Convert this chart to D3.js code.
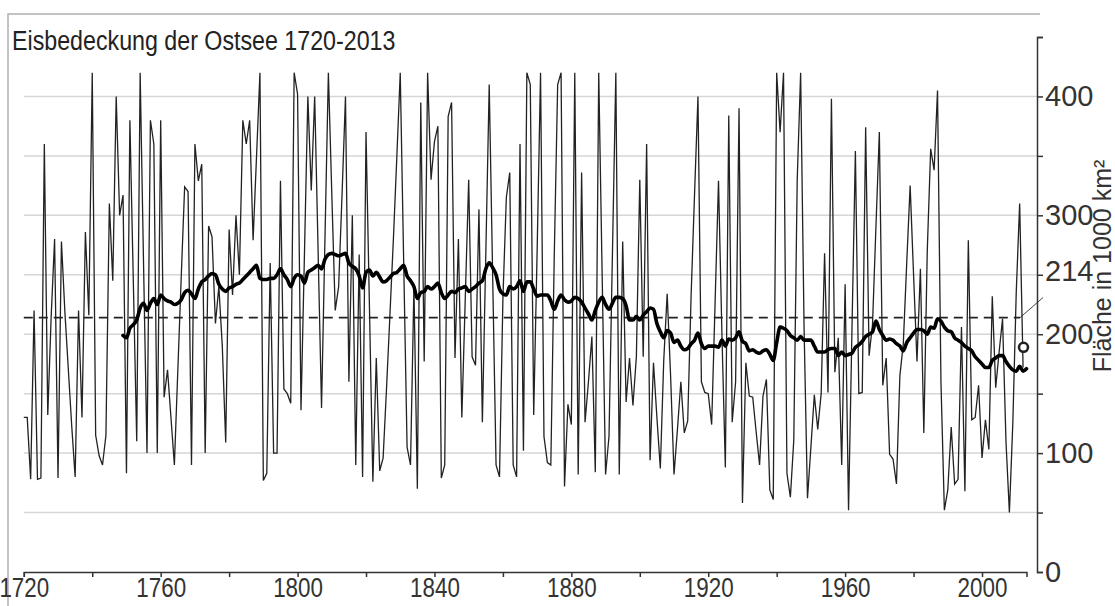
<!DOCTYPE html>
<html>
<head>
<meta charset="utf-8">
<title>Eisbedeckung der Ostsee 1720-2013</title>
<script src="https://cdn.jsdelivr.net/npm/d3@7"></script>
<style>
  body { margin: 0; background: #fff; }
  svg { display: block; font-family: "Liberation Sans", Arial, sans-serif; }
  .axis path, .axis line { stroke: #333; stroke-width: 1.5; }
  .axis text { fill: #333; }
</style>
</head>
<body>
<svg width="1115" height="606"></svg>
<script>
    // chart data (values in 1000 km²)
    var title = "Eisbedeckung der Ostsee 1720-2013";
    var yLabel = "Fläche in 1000 km²";
    var firstYear = 1720;
    var iceArea = [
        130, 130, 78, 220, 78, 79, 360, 132, 215, 280,
        79, 278, 219, 171, 123, 80, 220, 130, 286, 216,
        420, 115, 98, 90, 115, 310, 245, 400, 300, 317,
        83, 380, 245, 110, 420, 258, 100, 380, 360, 100,
        380, 147, 170, 130, 90, 169, 248, 324, 320, 90,
        360, 329, 343, 100, 291, 282, 209, 240, 190, 109,
        288, 233, 300, 250, 380, 360, 380, 279, 349, 420,
        77, 83, 260, 100, 100, 329, 154, 150, 142, 420,
        402, 136, 266, 400, 321, 400, 270, 138, 280, 420,
        318, 220, 240, 318, 400, 160, 300, 90, 267, 80,
        370, 223, 76, 180, 85, 96, 155, 217, 280, 349,
        420, 262, 105, 90, 240, 70, 395, 177, 420, 330,
        362, 375, 79, 90, 383, 395, 180, 280, 130, 230,
        330, 181, 174, 305, 126, 267, 410, 250, 90, 80,
        230, 315, 336, 90, 80, 360, 102, 420, 410, 132,
        270, 420, 114, 92, 90, 265, 410, 420, 72, 141,
        124, 420, 82, 336, 126, 160, 198, 84, 420, 250,
        82, 114, 267, 420, 82, 278, 143, 180, 140, 181,
        330, 181, 360, 94, 176, 130, 87, 178, 234, 165,
        82, 120, 160, 117, 127, 233, 318, 400, 160, 151,
        150, 124, 226, 329, 200, 88, 384, 126, 160, 390,
        58, 176, 148, 147, 118, 90, 148, 162, 69, 61,
        420, 370, 420, 83, 63, 111, 330, 420, 206, 62,
        105, 149, 120, 150, 268, 151, 398, 168, 197, 90,
        242, 52, 204, 354, 150, 151, 374, 182, 208, 290,
        370, 157, 180, 99, 95, 74, 165, 192, 260, 325,
        250, 177, 255, 117, 270, 356, 338, 405, 160, 52,
        69, 122, 74, 78, 206, 68, 279, 128, 130, 157,
        96, 128, 103, 232, 155, 185, 213, 110, 50, 125,
        235, 310, 172
    ];
    // 30-year running mean
    var meanStart = 1749;
    var runningMean = [
        199, 197, 205, 208, 212, 222, 226, 220, 226, 230, 225,
        233, 230, 228, 227, 225, 226, 229, 235, 237, 234,
        230, 238, 244, 246, 249, 251, 250, 242, 238, 236,
        239, 240, 242, 243, 246, 249, 252, 255, 258, 247,
        246, 246, 247, 247, 250, 255, 250, 246, 240, 247,
        250, 249, 243, 252, 254, 256, 258, 255, 263, 267,
        268, 267, 266, 267, 268, 260, 257, 255, 249, 239,
        252, 254, 249, 252, 248, 244, 245, 248, 251, 252,
        255, 258, 249, 245, 240, 230, 235, 236, 240, 238,
        240, 243, 235, 230, 233, 236, 235, 238, 239, 240,
        236, 238, 240, 243, 245, 255, 260, 256, 250, 238,
        234, 233, 240, 238, 240, 245, 236, 244, 244, 238,
        232, 233, 233, 233, 228, 221, 228, 233, 229, 227,
        228, 231, 230, 227, 222, 217, 212, 220, 227, 231,
        225, 221, 226, 231, 231, 230, 224, 212, 212, 215,
        212, 216, 219, 222, 221, 209, 202, 197, 203, 201,
        193, 195, 190, 187, 188, 192, 195, 201, 192, 188,
        190, 190, 190, 189, 195, 190, 196, 195, 197, 202,
        194, 192, 186, 187, 185, 184, 186, 187, 183, 178,
        193, 206, 205, 203, 199, 197, 195, 198, 195, 195,
        195, 190, 185, 185, 185, 187, 188, 188, 182, 185,
        182, 183, 184, 189, 191, 194, 198, 200, 202, 211,
        204, 199, 195, 196, 195, 192, 190, 186, 193, 197,
        201, 204, 204, 203, 200, 206, 205, 213, 211, 206,
        203, 202, 197, 195, 193, 190, 188, 186, 181, 178,
        175, 172, 172, 178, 180, 182, 182, 177, 173, 170,
        169, 173, 169, 171
    ];
    var markYear = 2013, markValue = 189;
    var refMean = 214;
    var xTickYears = [1720, 1740, 1760, 1780, 1800, 1820, 1840, 1860, 1880, 1900, 1920, 1940, 1960, 1980, 2000];
    var yTickValues = [0, 50, 100, 150, 200, 250, 300, 350, 400, 450];

    var svg = d3.select("svg");

    // squeeze text horizontally like the narrow lettering of the original
    function squeeze(sel, f) {
        sel.each(function () {
            var w = this.getComputedTextLength();
            if (w > 0) d3.select(this).attr("textLength", w * f).attr("lengthAdjust", "spacingAndGlyphs");
        });
    }

    svg.append("rect").attr("width", 1115).attr("height", 606).attr("fill", "#fff");

    // frame (top and left edge visible)
    svg.append("path")
        .attr("d", "M8,606 L8,14 L1040,14")
        .attr("fill", "none").attr("stroke", "#b0b0b0").attr("stroke-width", 1.5);

    var x = d3.scaleLinear().domain([1720, 2013]).range([23.8, 1026.5]);
    var y = d3.scaleLinear().domain([0, 450]).range([572, 37]);
    var axisX = 1037;

    // grid lines
    svg.append("g").selectAll("line")
        .data(yTickValues.filter(function (v) { return v > 0 && v < 450; }))
        .enter().append("line")
        .attr("x1", x(1720)).attr("x2", axisX)
        .attr("y1", function (d) { return y(d); }).attr("y2", function (d) { return y(d); })
        .attr("stroke", "#d6d6d6").attr("stroke-width", 1.5);

    // reference mean (dashed) with leader to its label
    svg.append("line")
        .attr("x1", x(1720)).attr("x2", x(2012) - 3)
        .attr("y1", y(refMean)).attr("y2", y(refMean))
        .attr("stroke", "#222").attr("stroke-width", 1.6)
        .attr("stroke-dasharray", "9,6");
    svg.append("line")
        .attr("x1", x(2012) - 3).attr("y1", y(refMean))
        .attr("x2", axisX + 6).attr("y2", y(refMean) - 20)
        .attr("stroke", "#444").attr("stroke-width", 1);

    // annual values
    var line = d3.line()
        .x(function (d) { return x(d[0]); })
        .y(function (d) { return y(d[1]); });

    var annual = iceArea.map(function (v, i) { return [firstYear + i, v]; });
    svg.append("path")
        .datum(annual)
        .attr("d", line)
        .attr("fill", "none").attr("stroke", "#222").attr("stroke-width", 1.3);

    // running mean
    var mean = runningMean.map(function (v, i) { return [meanStart + i, v]; });
    svg.append("path")
        .datum(mean)
        .attr("d", line.curve(d3.curveMonotoneX))
        .attr("fill", "none").attr("stroke", "#000").attr("stroke-width", 3.6)
        .attr("stroke-linejoin", "round").attr("stroke-linecap", "round");

    // last year marker
    svg.append("circle")
        .attr("cx", x(markYear) - 3).attr("cy", y(markValue)).attr("r", 4.5)
        .attr("fill", "#fff").attr("stroke", "#222").attr("stroke-width", 2.6);

    // x axis
    var xa = svg.append("g").attr("class", "axis")
        .attr("transform", "translate(0," + y(0) + ")")
        .call(d3.axisBottom(x).tickValues(xTickYears).tickSizeOuter(0).tickSize(5)
            .tickFormat(function (d) { return d % 40 === 0 ? d : ""; }));
    xa.selectAll("text").attr("y", 25).attr("dy", 0).attr("font-size", 28);
    squeeze(xa.selectAll("text"), 0.8);

    // right axis
    var ra = svg.append("g").attr("class", "axis")
        .attr("transform", "translate(" + axisX + ",0)")
        .call(d3.axisRight(y).tickValues(yTickValues).tickSizeOuter(0).tickSize(6)
            .tickFormat(function (d) { return d % 100 === 0 && d <= 400 ? d : ""; }));
    ra.selectAll("text").attr("x", 8).attr("font-size", 29);

    svg.append("text")
        .attr("x", axisX + 8).attr("y", y(refMean) - 47)
        .attr("dy", "0.35em")
        .attr("fill", "#333").attr("font-size", 29)
        .text(refMean);

    svg.append("text")
        .attr("transform", "translate(1111," + 266 + ") rotate(-90)")
        .attr("text-anchor", "middle")
        .attr("fill", "#333").attr("font-size", 25)
        .text(yLabel);

    var t = svg.append("text")
        .attr("x", 12).attr("y", 50)
        .attr("fill", "#222").attr("font-size", 27)
        .text(title);
    squeeze(t, 0.86);
</script>
</body>
</html>
